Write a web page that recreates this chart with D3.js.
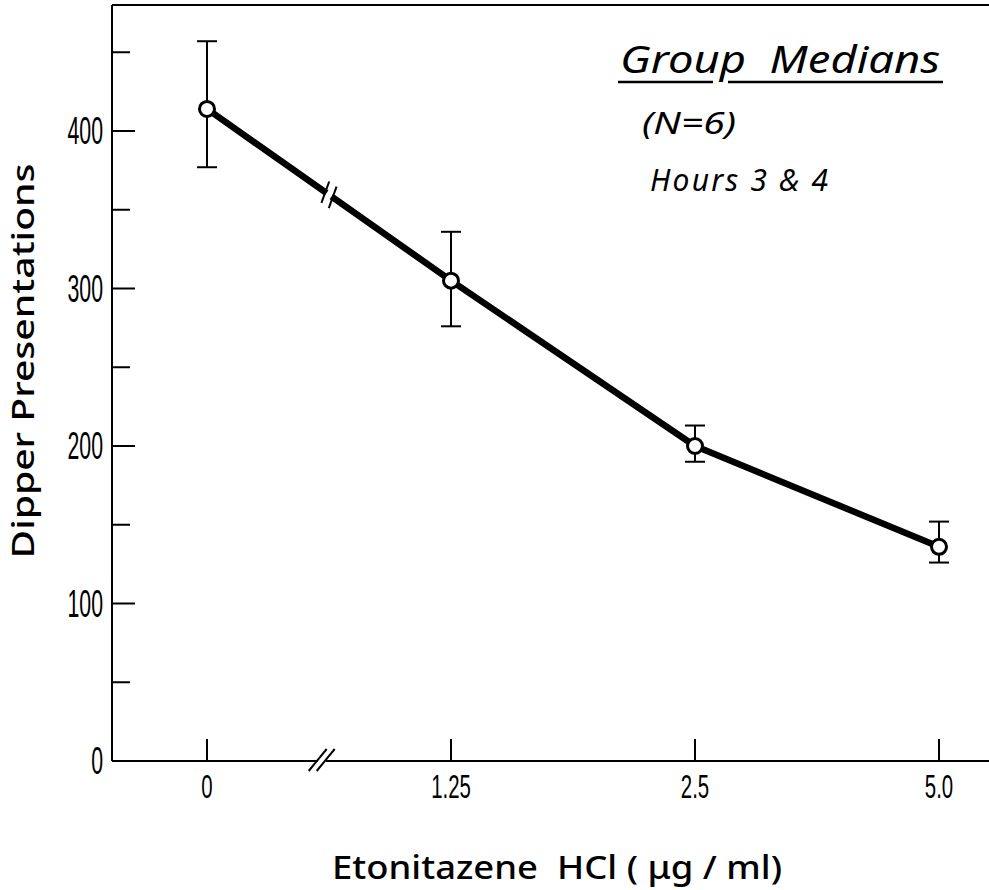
<!DOCTYPE html>
<html>
<head>
<meta charset="utf-8">
<script src="https://cdn.jsdelivr.net/npm/d3@7"></script>
<style>
  body { margin: 0; background: #fff; }
  svg { display: block; }
</style>
</head>
<body>
<div id="chart"></div>
<script>
// data
const doses = ["0", "1.25", "2.5", "5.0"];
const medians = [414, 305, 200, 136];
const upper = [457, 336, 213, 152];
const lower = [377, 276, 190, 126];
const yTicks = [0, 50, 100, 150, 200, 250, 300, 350, 400, 450];
const yLabels = [0, 100, 200, 300, 400];

const width = 989, height = 890;
const margin = {top: 5, right: 0, bottom: 129, left: 112};

const svg = d3.select("#chart").append("svg")
    .attr("width", width)
    .attr("height", height);

const y = d3.scaleLinear()
    .domain([0, 480])
    .range([height - margin.bottom, margin.top]);

const x = d3.scalePoint()
    .domain(doses)
    .range([207, 939]);

const tickFont = "'Liberation Sans', Arial, sans-serif";
const labelFont = "'Noto Sans', 'DejaVu Sans', sans-serif";

// frame: left axis, top line, bottom axis (no right edge)
svg.append("line")
    .attr("x1", margin.left).attr("x2", margin.left)
    .attr("y1", y(480)).attr("y2", y(0))
    .attr("stroke", "black").attr("stroke-width", 2);
svg.append("line")
    .attr("x1", margin.left).attr("x2", width)
    .attr("y1", y(480)).attr("y2", y(480))
    .attr("stroke", "black").attr("stroke-width", 2);
svg.append("line")
    .attr("x1", margin.left).attr("x2", width)
    .attr("y1", y(0)).attr("y2", y(0))
    .attr("stroke", "black").attr("stroke-width", 2);

// y ticks, pointing inward
svg.append("g")
  .selectAll("line")
  .data(yTicks.filter(d => d > 0))
  .join("line")
    .attr("x1", margin.left)
    .attr("x2", d => margin.left + (d % 100 === 0 ? 23 : 18))
    .attr("y1", d => y(d)).attr("y2", d => y(d))
    .attr("stroke", "black").attr("stroke-width", 2);

// condensed tick labels
svg.append("g")
  .selectAll("text")
  .data(yLabels)
  .join("text")
    .attr("transform", d => `translate(${margin.left - 9},${y(d) + 13}) scale(0.56,1)`)
    .attr("text-anchor", "end")
    .attr("font-family", tickFont)
    .attr("font-size", 38)
    .text(d => d);

// x ticks, pointing up
svg.append("g")
  .selectAll("line")
  .data(doses)
  .join("line")
    .attr("x1", d => x(d)).attr("x2", d => x(d))
    .attr("y1", y(0)).attr("y2", y(0) - 22)
    .attr("stroke", "black").attr("stroke-width", 2);

svg.append("g")
  .selectAll("text")
  .data(doses)
  .join("text")
    .attr("transform", d => `translate(${x(d)},${y(0) + 37}) scale(0.6,1)`)
    .attr("text-anchor", "middle")
    .attr("font-family", tickFont)
    .attr("font-size", 34)
    .text(d => d);

// axis break on x axis
const bx = x(doses[0]) + 0.47 * x.step();
svg.append("rect")
    .attr("x", bx - 4).attr("y", y(0) - 3)
    .attr("width", 8).attr("height", 6)
    .attr("fill", "white");
[-4, 4].forEach(o => {
  svg.append("line")
      .attr("x1", bx + o - 9).attr("y1", y(0) + 10)
      .attr("x2", bx + o + 9).attr("y2", y(0) - 12)
      .attr("stroke", "black").attr("stroke-width", 2);
});

// axis titles
svg.append("text")
    .attr("transform", `translate(34, ${y(254)}) rotate(-90)`)
    .attr("text-anchor", "middle")
    .attr("font-family", labelFont)
    .attr("font-weight", 500)
    .attr("font-size", 31)
    .attr("textLength", 395)
    .attr("lengthAdjust", "spacingAndGlyphs")
    .text("Dipper  Presentations");

svg.append("text")
    .attr("x", 557)
    .attr("y", 879)
    .attr("text-anchor", "middle")
    .attr("font-family", labelFont)
    .attr("font-weight", 500)
    .attr("font-size", 33)
    .attr("textLength", 450)
    .attr("lengthAdjust", "spacingAndGlyphs")
    .style("white-space", "pre")
    .text("Etonitazene  HCl ( μg / ml)");

// error bars
const pts = doses.map((d, i) => ({dose: d, med: medians[i], hi: upper[i], lo: lower[i]}));

const bars = svg.append("g")
  .selectAll("g")
  .data(pts)
  .join("g")
    .attr("stroke", "black").attr("stroke-width", 2);
bars.append("line")
    .attr("x1", d => x(d.dose)).attr("x2", d => x(d.dose))
    .attr("y1", d => y(d.hi)).attr("y2", d => y(d.lo));
bars.append("line")
    .attr("x1", d => x(d.dose) - 10).attr("x2", d => x(d.dose) + 10)
    .attr("y1", d => y(d.hi)).attr("y2", d => y(d.hi));
bars.append("line")
    .attr("x1", d => x(d.dose) - 10).attr("x2", d => x(d.dose) + 10)
    .attr("y1", d => y(d.lo)).attr("y2", d => y(d.lo));

// median line
const line = d3.line()
    .x(d => x(d.dose))
    .y(d => y(d.med));

svg.append("path")
    .datum(pts)
    .attr("d", line)
    .attr("fill", "none")
    .attr("stroke", "black")
    .attr("stroke-width", 6.5)
    .attr("stroke-linejoin", "round");

// break mark on the first segment
const p0 = [x(pts[0].dose), y(pts[0].med)];
const p1 = [x(pts[1].dose), y(pts[1].med)];
const t = 0.5;
const mx = p0[0] + t * (p1[0] - p0[0]);
const my = p0[1] + t * (p1[1] - p0[1]);
const ang = Math.atan2(p1[1] - p0[1], p1[0] - p0[0]) * 180 / Math.PI;
const brk = svg.append("g")
    .attr("transform", `translate(${mx},${my}) rotate(${ang})`);
brk.append("rect")
    .attr("x", -3).attr("y", -6).attr("width", 6).attr("height", 12)
    .attr("fill", "white");
[-4.5, 4.5].forEach(o => {
  brk.append("line")
      .attr("x1", o - 3).attr("y1", -11)
      .attr("x2", o + 3).attr("y2", 11)
      .attr("stroke", "black").attr("stroke-width", 2);
});

// open circle markers
svg.append("g")
  .selectAll("circle")
  .data(pts)
  .join("circle")
    .attr("cx", d => x(d.dose))
    .attr("cy", d => y(d.med))
    .attr("r", 7.5)
    .attr("fill", "white")
    .attr("stroke", "black")
    .attr("stroke-width", 3);

// annotation
const note = svg.append("g")
    .attr("font-family", labelFont)
    .attr("font-style", "italic");
note.append("text")
    .attr("x", 620).attr("y", 73)
    .attr("font-size", 39)
    .attr("textLength", 320)
    .attr("lengthAdjust", "spacingAndGlyphs")
    .style("white-space", "pre")
    .text("Group  Medians");
[[618, 713], [728, 943]].forEach(([a, b]) => {
  note.append("line")
      .attr("x1", a).attr("x2", b)
      .attr("y1", 82).attr("y2", 82)
      .attr("stroke", "black").attr("stroke-width", 2.5);
});
note.append("text")
    .attr("x", 642).attr("y", 134)
    .attr("font-size", 30)
    .attr("textLength", 94)
    .attr("lengthAdjust", "spacingAndGlyphs")
    .text("(N=6)");
note.append("text")
    .attr("x", 650).attr("y", 191)
    .attr("font-size", 30)
    .attr("textLength", 178)
    .attr("lengthAdjust", "spacing")
    .style("white-space", "pre")
    .text("Hours 3 & 4");
</script>
</body>
</html>
